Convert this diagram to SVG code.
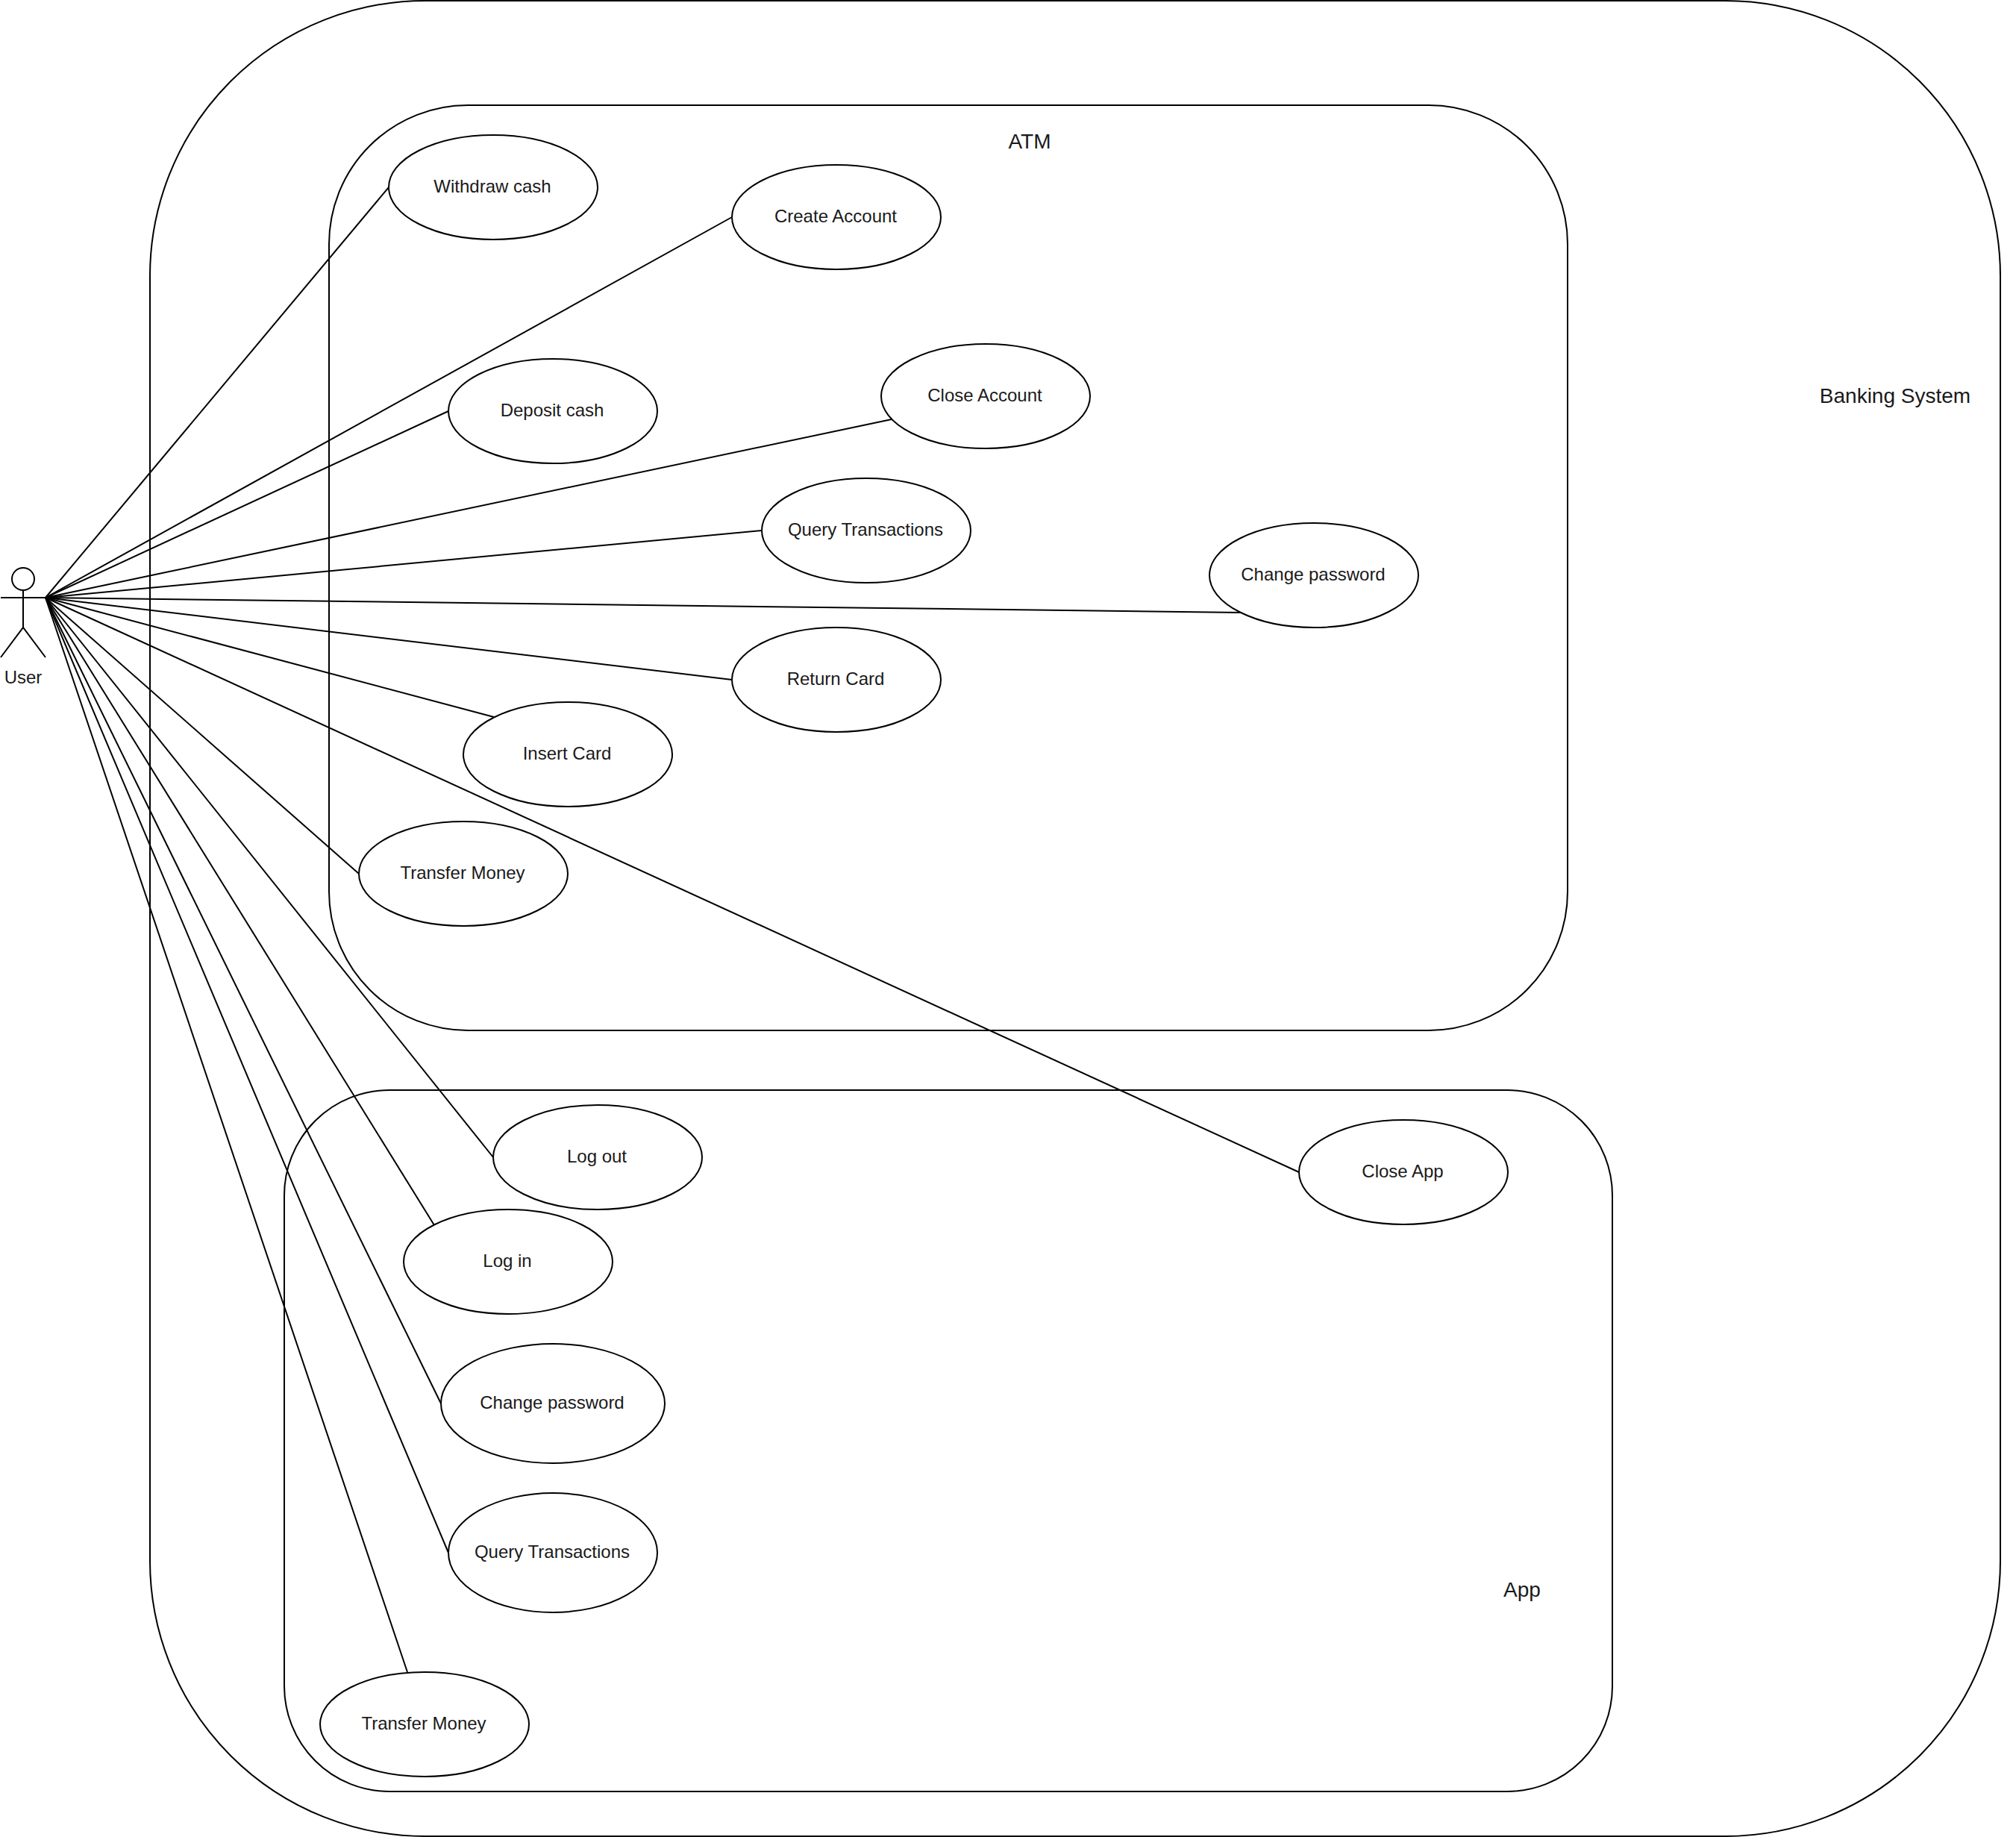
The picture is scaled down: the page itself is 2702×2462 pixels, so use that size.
<svg xmlns="http://www.w3.org/2000/svg" width="2702" height="2462" viewBox="0 0 2702 2462">
<style>
.b{fill:none;stroke:#000;stroke-width:2}
.u{fill:#fff;stroke:#000;stroke-width:2}
.c line{stroke:#000;stroke-width:2}
text{font-family:"Liberation Sans",Arial,sans-serif;font-size:24px;fill:#1a1a1a;text-anchor:middle;dominant-baseline:central}
.t{font-size:28px}
</style>
<rect width="2702" height="2462" fill="#fff"/>
<g id="banking-system"><rect class="b" x="201" y="1" width="2480" height="2460" rx="369" ry="369"/><text class="t" x="2540" y="530.5">Banking System</text></g>
<g id="atm"><rect class="b" x="441" y="141" width="1660" height="1240" rx="186" ry="186"/><text class="t" x="1380" y="189.5">ATM</text></g>
<g id="app"><rect class="b" x="381" y="1461" width="1780" height="940" rx="141" ry="141"/><text class="t" x="2040" y="2130.5">App</text></g>
<g id="connectors" class="c">
<line x1="61" y1="801" x2="521" y2="251"/>
<line x1="61" y1="801" x2="981" y2="291"/>
<line x1="61" y1="801" x2="601" y2="551"/>
<line x1="61" y1="801" x2="1195" y2="562"/>
<line x1="61" y1="801" x2="1021" y2="711"/>
<line x1="61" y1="801" x2="1663" y2="821"/>
<line x1="61" y1="801" x2="981" y2="911"/>
<line x1="61" y1="801" x2="662" y2="961"/>
<line x1="61" y1="801" x2="481" y2="1171"/>
<line x1="61" y1="801" x2="661" y2="1551"/>
<line x1="61" y1="801" x2="582" y2="1642"/>
<line x1="61" y1="801" x2="591" y2="1881"/>
<line x1="61" y1="801" x2="601" y2="2081"/>
<line x1="61" y1="801" x2="546" y2="2241"/>
<line x1="61" y1="801" x2="1741" y2="1571"/>
</g>
<g id="user"><circle class="b" cx="31" cy="776" r="15"/><path class="b" d="M31 791V841M1 801H61M1 881L31 841L61 881"/><text x="31" y="907">User</text></g>
<g id="withdraw-cash"><ellipse class="u" cx="661" cy="251" rx="140" ry="70"/><text x="660" y="249.5">Withdraw cash</text></g>
<g id="create-account"><ellipse class="u" cx="1121" cy="291" rx="140" ry="70"/><text x="1120" y="289.5">Create Account</text></g>
<g id="deposit-cash"><ellipse class="u" cx="741" cy="551" rx="140" ry="70"/><text x="740" y="549.5">Deposit cash</text></g>
<g id="close-account"><ellipse class="u" cx="1321" cy="531" rx="140" ry="70"/><text x="1320" y="529.5">Close Account</text></g>
<g id="query-transactions-atm"><ellipse class="u" cx="1161" cy="711" rx="140" ry="70"/><text x="1160" y="709.5">Query Transactions</text></g>
<g id="change-password-atm"><ellipse class="u" cx="1761" cy="771" rx="140" ry="70"/><text x="1760" y="769.5">Change password</text></g>
<g id="return-card"><ellipse class="u" cx="1121" cy="911" rx="140" ry="70"/><text x="1120" y="909.5">Return Card</text></g>
<g id="insert-card"><ellipse class="u" cx="761" cy="1011" rx="140" ry="70"/><text x="760" y="1009.5">Insert Card</text></g>
<g id="transfer-money-atm"><ellipse class="u" cx="621" cy="1171" rx="140" ry="70"/><text x="620" y="1169.5">Transfer Money</text></g>
<g id="log-out"><ellipse class="u" cx="801" cy="1551" rx="140" ry="70"/><text x="800" y="1549.5">Log out</text></g>
<g id="log-in"><ellipse class="u" cx="681" cy="1691" rx="140" ry="70"/><text x="680" y="1689.5">Log in</text></g>
<g id="change-password-app"><ellipse class="u" cx="741" cy="1881" rx="150" ry="80"/><text x="740" y="1879.5">Change password</text></g>
<g id="query-transactions-app"><ellipse class="u" cx="741" cy="2081" rx="140" ry="80"/><text x="740" y="2079.5">Query Transactions</text></g>
<g id="transfer-money-app"><ellipse class="u" cx="569" cy="2311" rx="140" ry="70"/><text x="568" y="2309.5">Transfer Money</text></g>
<g id="close-app"><ellipse class="u" cx="1881" cy="1571" rx="140" ry="70"/><text x="1880" y="1569.5">Close App</text></g>
</svg>
